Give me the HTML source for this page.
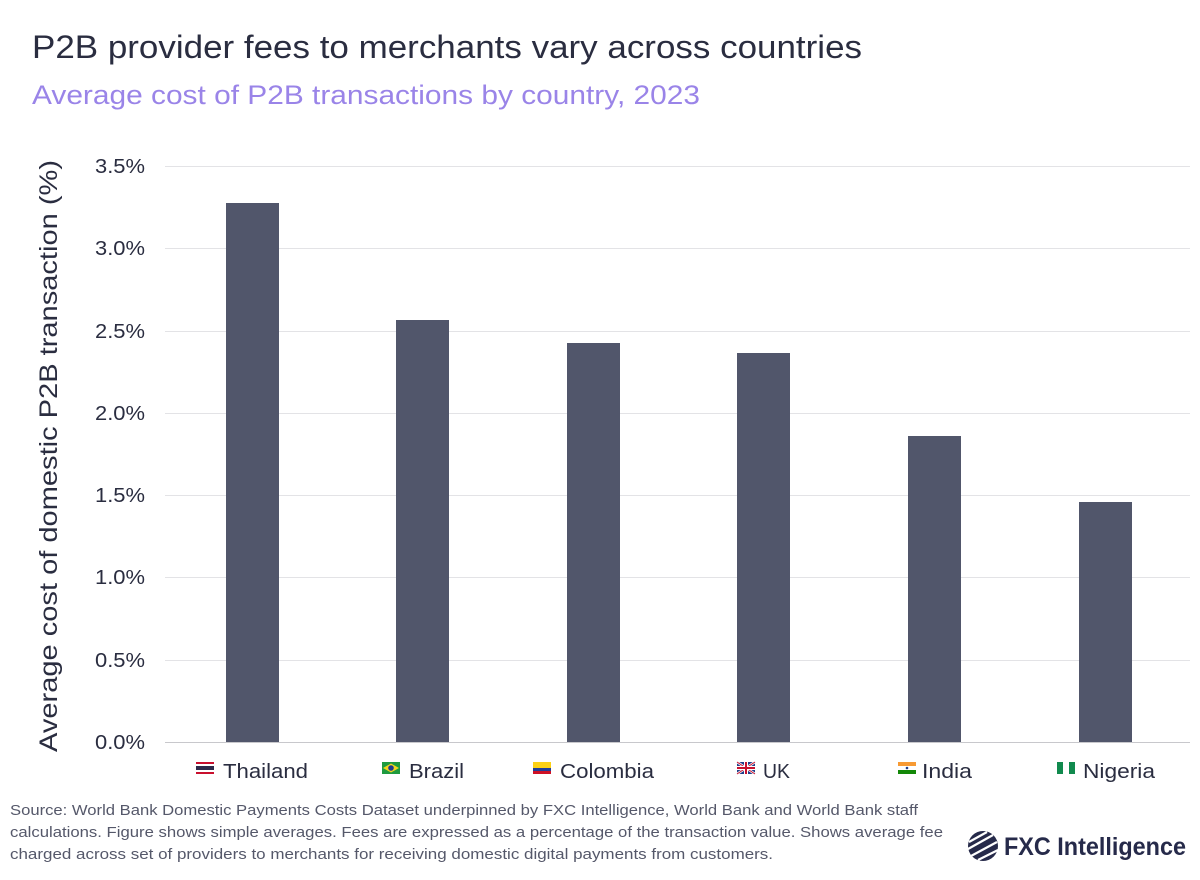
<!DOCTYPE html>
<html><head><meta charset="utf-8"><style>
body{margin:0;background:#fff;width:1200px;height:875px;overflow:hidden;font-family:"Liberation Sans",sans-serif}
</style></head><body>
<svg width="1200" height="875" xmlns="http://www.w3.org/2000/svg" font-family="Liberation Sans, sans-serif">
<text x="32" y="58" font-size="32" fill="#2a2d40" textLength="830" lengthAdjust="spacingAndGlyphs">P2B provider fees to merchants vary across countries</text>
<text x="32" y="104" font-size="27" fill="#9a84e8" textLength="668" lengthAdjust="spacingAndGlyphs">Average cost of P2B transactions by country, 2023</text>
<g stroke="#e3e3e6" stroke-width="1">
<line x1="165" x2="1190" y1="166.5" y2="166.5"/><line x1="165" x2="1190" y1="248.5" y2="248.5"/>
<line x1="165" x2="1190" y1="331.5" y2="331.5"/><line x1="165" x2="1190" y1="413.5" y2="413.5"/>
<line x1="165" x2="1190" y1="495.5" y2="495.5"/><line x1="165" x2="1190" y1="577.5" y2="577.5"/>
<line x1="165" x2="1190" y1="660.5" y2="660.5"/>
</g>
<line x1="165" x2="1190" y1="742.5" y2="742.5" stroke="#c8c8cc"/>
<g font-size="20" fill="#2a2d40">
<text x="95" y="173" textLength="50" lengthAdjust="spacingAndGlyphs">3.5%</text><text x="95" y="255" textLength="50" lengthAdjust="spacingAndGlyphs">3.0%</text><text x="95" y="338" textLength="50" lengthAdjust="spacingAndGlyphs">2.5%</text>
<text x="95" y="420" textLength="50" lengthAdjust="spacingAndGlyphs">2.0%</text><text x="95" y="502" textLength="50" lengthAdjust="spacingAndGlyphs">1.5%</text><text x="95" y="584" textLength="50" lengthAdjust="spacingAndGlyphs">1.0%</text>
<text x="95" y="667" textLength="50" lengthAdjust="spacingAndGlyphs">0.5%</text><text x="95" y="749" textLength="50" lengthAdjust="spacingAndGlyphs">0.0%</text>
</g>
<text transform="translate(57,752) rotate(-90)" font-size="25" fill="#2a2d40" textLength="592" lengthAdjust="spacingAndGlyphs">Average cost of domestic P2B transaction (%)</text>
<g fill="#51566b">
<rect x="226" y="203" width="53" height="539"/>
<rect x="396" y="320" width="53" height="422"/>
<rect x="567" y="343" width="53" height="399"/>
<rect x="737" y="353" width="53" height="389"/>
<rect x="908" y="436" width="53" height="306"/>
<rect x="1079" y="502" width="53" height="240"/>
</g>
<g font-size="20" fill="#2a2d40">
<text x="223" y="778" textLength="85" lengthAdjust="spacingAndGlyphs">Thailand</text><text x="409" y="778" textLength="55" lengthAdjust="spacingAndGlyphs">Brazil</text><text x="560" y="778" textLength="94" lengthAdjust="spacingAndGlyphs">Colombia</text>
<text x="763" y="778" textLength="27" lengthAdjust="spacingAndGlyphs">UK</text><text x="922" y="778" textLength="50" lengthAdjust="spacingAndGlyphs">India</text><text x="1083" y="778" textLength="72" lengthAdjust="spacingAndGlyphs">Nigeria</text>
</g>
<g transform="translate(196,762)"><rect width="18" height="12" fill="#c8102e"/><rect y="2" width="18" height="8" fill="#fff"/><rect y="4" width="18" height="4" fill="#2d2a4a"/></g>
<g transform="translate(382,762)"><rect width="18" height="12" fill="#1f9a3f"/><polygon points="9,1.5 17,6 9,10.5 1,6" fill="#f4d51e"/><circle cx="9" cy="6" r="2.8" fill="#213a8f"/></g>
<g transform="translate(533,762)"><rect width="18" height="12" fill="#fcd116"/><rect y="6" width="18" height="3" fill="#1f3e9a"/><rect y="9" width="18" height="3" fill="#ce1126"/></g>
<g transform="translate(737,762)"><rect width="18" height="12" fill="#1f3e8a"/><path d="M0,0L18,12M18,0L0,12" stroke="#fff" stroke-width="2.5"/><path d="M0,0L18,12M18,0L0,12" stroke="#c8102e" stroke-width="1"/><path d="M9,0V12M0,6H18" stroke="#fff" stroke-width="4"/><path d="M9,0V12M0,6H18" stroke="#c8102e" stroke-width="2"/></g>
<g transform="translate(898,762)"><rect width="18" height="4" fill="#f79a33"/><rect y="4" width="18" height="4" fill="#fff"/><rect y="8" width="18" height="4" fill="#138808"/><circle cx="9" cy="6" r="1.3" fill="#1f3e8a"/></g>
<g transform="translate(1057,762)"><rect width="18" height="12" fill="#fff"/><rect width="6" height="12" fill="#118a4e"/><rect x="12" width="6" height="12" fill="#118a4e"/></g>
<g font-size="15" fill="#55586a">
<text x="10" y="815" textLength="908" lengthAdjust="spacingAndGlyphs">Source: World Bank Domestic Payments Costs Dataset underpinned by FXC Intelligence, World Bank and World Bank staff</text>
<text x="10" y="837" textLength="933" lengthAdjust="spacingAndGlyphs">calculations. Figure shows simple averages. Fees are expressed as a percentage of the transaction value. Shows average fee</text>
<text x="10" y="859" textLength="763" lengthAdjust="spacingAndGlyphs">charged across set of providers to merchants for receiving domestic digital payments from customers.</text>
</g>
<g transform="translate(983,846)">
<circle r="15" fill="#262a4a"/>
<path d="M-14,-4L4,-14M-15,3L10,-11M-12,10L14,-4M-5,14L15,4" stroke="#fff" stroke-width="2.2"/>
</g>
<text x="1004" y="855" font-size="25" font-weight="bold" fill="#262a4a" textLength="182" lengthAdjust="spacingAndGlyphs">FXC Intelligence</text>
</svg>
</body></html>
